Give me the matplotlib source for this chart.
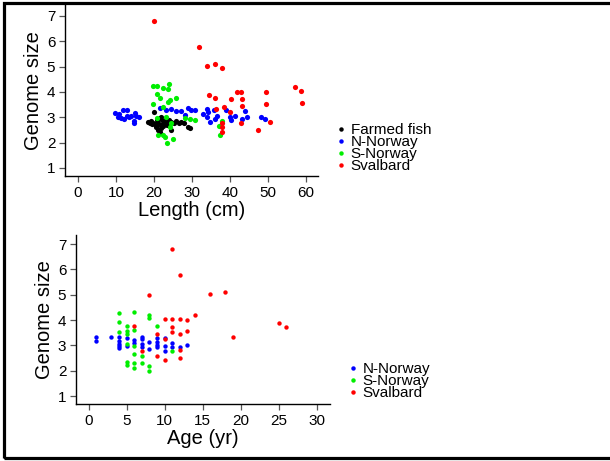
import numpy as np
import matplotlib
matplotlib.use('Agg')
import matplotlib.pyplot as plt
from matplotlib.lines import Line2D
from matplotlib.patches import Rectangle

plt.rcParams['font.family'] = ['Liberation Sans', 'DejaVu Sans']

# top panel: genome size vs length (cm)
farmed_len = [20.1, 18.5, 18.9, 19.3, 19.8, 20.3, 20.8, 21.2, 21.6, 21.9, 22.3, 22.7,
              23.1, 23.6, 24.1, 24.6, 25.2, 25.8, 26.5, 27.2, 28.0, 29.0, 29.5, 20.6,
              21.1, 21.6, 22.0, 22.4, 21.3, 22.8, 24.5, 19.6, 23.4, 21.9, 20.9]
farmed_gs = [3.20, 2.83, 2.77, 2.85, 2.79, 2.74, 2.88, 2.79, 2.96, 2.70, 2.84, 2.78,
             2.75, 2.82, 2.88, 2.80, 2.76, 2.86, 2.78, 2.80, 2.76, 2.63, 2.56, 2.62,
             2.50, 2.43, 2.57, 2.66, 2.92, 2.90, 2.50, 2.72, 2.68, 3.02, 2.69]

nnor_len = [9.7, 10.6, 10.9, 11.9, 13.0, 11.3, 12.2, 12.8, 13.5, 14.1, 15.0, 15.3, 14.8,
            14.8, 16.1, 21.6, 23.3, 24.5, 25.7, 27.1, 28.2, 28.9, 29.7, 30.8, 33.0, 33.9,
            34.3, 33.9, 34.7, 35.9, 36.5, 36.1, 38.9, 40.0, 40.4, 41.3, 43.1, 43.9, 44.5,
            48.2, 49.2]
nnor_gs = [3.16, 2.99, 3.12, 3.29, 3.29, 2.96, 2.93, 3.03, 2.99, 3.03, 3.16, 3.03, 2.76,
           2.86, 3.00, 3.36, 3.29, 3.32, 3.25, 3.25, 3.09, 3.36, 3.28, 3.29, 3.12, 3.32,
           3.22, 2.99, 2.83, 3.29, 3.04, 2.93, 3.29, 2.99, 2.89, 3.03, 2.93, 3.24, 2.99,
           3.00, 2.92]

snor_len = [19.7, 20.9, 22.5, 23.9, 23.8, 20.9, 21.7, 19.7, 23.6, 24.3, 25.7, 22.5, 20.7,
            23.3, 24.6, 24.3, 21.1, 22.5, 22.9, 23.5, 24.9, 28.2, 29.5, 30.8, 37.9, 37.2,
            37.4]
snor_gs = [4.24, 4.24, 4.17, 4.30, 4.11, 3.91, 3.75, 3.51, 3.62, 3.68, 3.75, 3.42, 2.96,
           3.00, 2.76, 2.60, 2.28, 2.30, 2.20, 2.00, 2.13, 2.96, 2.93, 2.89, 2.87, 2.66,
           2.28]

sval_len = [19.9, 31.8, 34.0, 36.2, 38.0, 34.6, 36.0, 36.3, 38.4, 40.0, 40.3, 41.9, 42.9,
            43.2, 43.3, 37.8, 37.9, 37.9, 42.9, 47.4, 49.4, 49.4, 50.5, 57.2, 58.8, 59.1]
sval_gs = [6.78, 5.78, 5.03, 5.12, 4.96, 3.88, 3.75, 3.32, 3.40, 3.21, 3.72, 4.00, 4.00,
           3.72, 3.45, 2.79, 2.63, 2.42, 2.76, 2.49, 3.54, 3.99, 2.83, 4.20, 4.03, 3.58]

# bottom panel: genome size vs age (yr)
nnor_age = [1, 1, 3, 4, 4, 4, 4, 4, 5, 5, 6, 6, 7, 7, 7, 7, 8, 8, 9, 9, 9, 9,
            10, 10, 10, 11, 11, 12, 13]
nnor_gs2 = [3.34, 3.17, 3.34, 3.34, 3.17, 3.04, 2.97, 2.88, 3.28, 2.99, 3.21, 3.08,
            3.34, 3.25, 3.04, 2.93, 3.14, 2.86, 3.28, 3.14, 3.01, 2.93, 3.30, 2.99,
            2.78, 3.08, 2.93, 2.93, 3.01]

snor_age = [4, 4, 4, 5, 5, 5, 5, 5, 5, 6, 6, 6, 6, 6, 6, 7, 7, 8, 8, 8, 8, 9, 11]
snor_gs2 = [4.26, 3.91, 3.51, 3.78, 3.57, 3.43, 3.04, 2.33, 2.22, 4.30, 3.61, 2.99,
            2.64, 2.29, 2.12, 2.59, 2.30, 4.20, 4.10, 2.20, 2.00, 3.76, 2.78]

sval_age = [11, 12, 8, 16, 18, 6, 7, 9, 9, 10, 10, 10, 11, 11, 11, 12, 12, 12, 12,
            13, 13, 14, 19, 25, 26]
sval_gs2 = [6.80, 5.78, 4.99, 5.03, 5.12, 3.78, 2.79, 3.43, 2.59, 4.03, 3.24, 2.42,
            4.03, 3.74, 3.54, 4.03, 3.45, 2.82, 2.49, 4.00, 3.58, 4.20, 3.32, 3.89, 3.74]

BLACK, BLUE, GREEN, RED = '#000000', '#0000ff', '#00ee00', '#ff0000'

fig = plt.figure(figsize=(6.1, 4.61), dpi=100)
W, H = 610.0, 461.0


def style_axes(ax):
    for s in ['top', 'right']:
        ax.spines[s].set_visible(False)
    for s in ['left', 'bottom']:
        ax.spines[s].set_linewidth(1.0)
    ax.tick_params(direction='out', length=4, width=0.9, color='#555555',
                   labelsize=11, pad=3)
    ax.set_yticks([1, 2, 3, 4, 5, 6, 7])
    ax.set_ylabel('Genome size', fontsize=14.5, labelpad=3)


# top axes
ax1 = fig.add_axes([65 / W, 1 - 176 / H, (318 - 65) / W, (176 - 5) / H])
ax1.scatter(farmed_len, farmed_gs, s=14, c=BLACK, linewidths=0, label='Farmed fish')
ax1.scatter(nnor_len, nnor_gs, s=14, c=BLUE, linewidths=0, label='N-Norway')
ax1.scatter(snor_len, snor_gs, s=14, c=GREEN, linewidths=0, label='S-Norway')
ax1.scatter(sval_len, sval_gs, s=14, c=RED, linewidths=0, label='Svalbard')
ax1.set_xlim(-3.4, 63.2)
ax1.set_ylim(0.68, 7.43)
ax1.set_xticks([0, 10, 20, 30, 40, 50, 60])
style_axes(ax1)
ax1.set_xlabel('Length (cm)', fontsize=14.5, labelpad=1)

# bottom axes
ax2 = fig.add_axes([76 / W, 1 - 404 / H, (330 - 76) / W, (404 - 235) / H])
ax2.scatter(nnor_age, nnor_gs2, s=10, c=BLUE, linewidths=0, label='N-Norway')
ax2.scatter(snor_age, snor_gs2, s=10, c=GREEN, linewidths=0, label='S-Norway')
ax2.scatter(sval_age, sval_gs2, s=10, c=RED, linewidths=0, label='Svalbard')
ax2.set_xlim(-1.67, 31.75)
ax2.set_ylim(0.684, 7.36)
ax2.set_xticks([0, 5, 10, 15, 20, 25, 30])
style_axes(ax2)
ax2.set_xlabel('Age (yr)', fontsize=14.5, labelpad=1)


def dot(color):
    return Line2D([], [], marker='o', linestyle='none', markersize=3.2,
                  markerfacecolor=color, markeredgewidth=0)


leg_kw = dict(frameon=False, fontsize=11, borderpad=0, handlelength=0.6,
              handletextpad=0.35, labelspacing=-0.12, loc='upper left',
              borderaxespad=0)
fig.legend([dot(BLACK), dot(BLUE), dot(GREEN), dot(RED)],
           ['Farmed fish', 'N-Norway', 'S-Norway', 'Svalbard'],
           bbox_to_anchor=(336 / W, 1 - 123 / H), **leg_kw)
fig.legend([dot(BLUE), dot(GREEN), dot(RED)],
           ['N-Norway', 'S-Norway', 'Svalbard'],
           bbox_to_anchor=(348 / W, 1 - 362 / H), **leg_kw)

# outer frame
fig.patches.append(Rectangle((4 / W, 1 - 458 / H), 1.1, (458 - 3) / H,
                             transform=fig.transFigure, fill=False,
                             edgecolor='black', linewidth=2.3, clip_on=False))

fig.savefig('out.png', dpi=100)
